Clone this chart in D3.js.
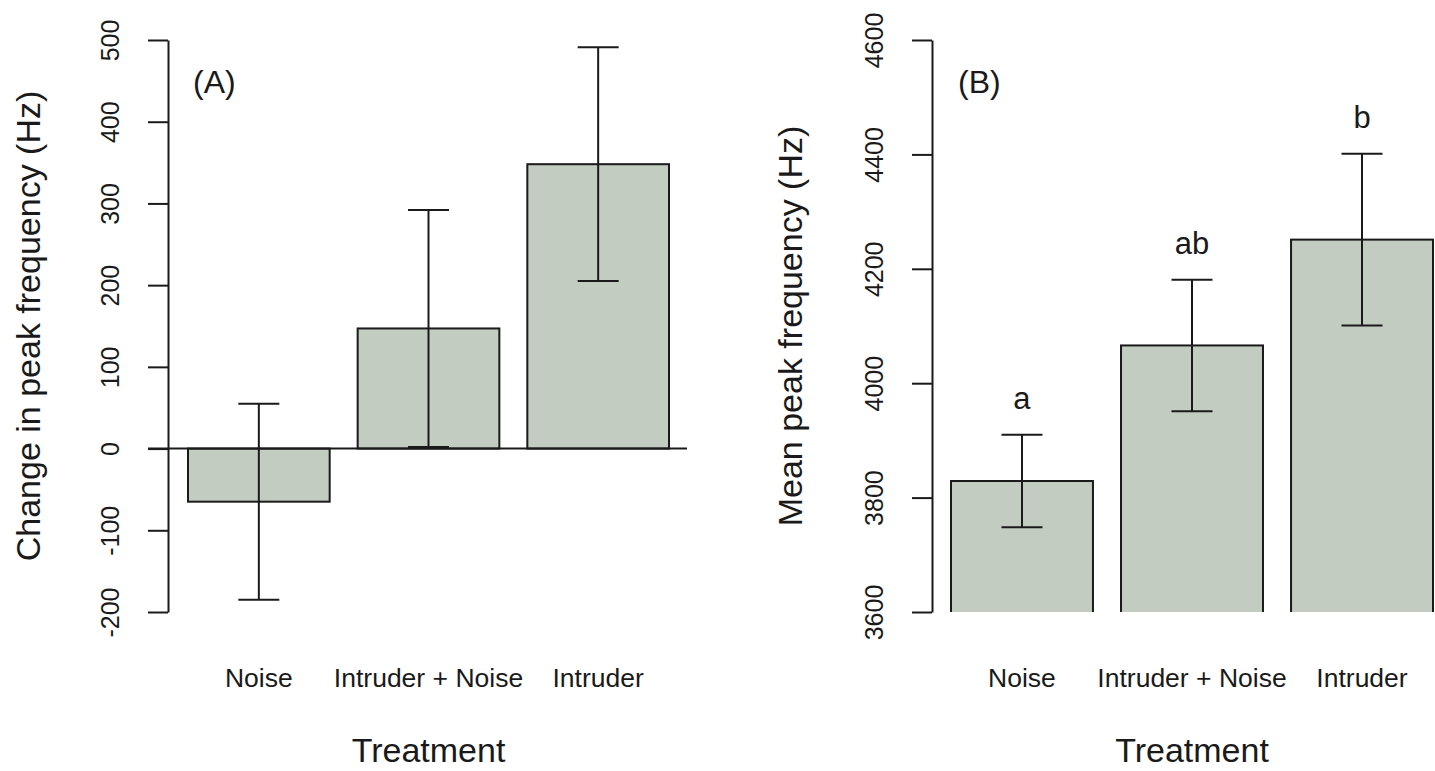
<!DOCTYPE html>
<html>
<head>
<meta charset="utf-8">
<script src="https://cdn.jsdelivr.net/npm/d3@7"></script>
<style>
  body { margin: 0; background: #fff; }
  svg { display: block; font-family: "Liberation Sans", Arial, sans-serif; }
</style>
</head>
<body>
<svg id="chart" width="1435" height="771"></svg>
<script>
const treatments = ["Noise", "Intruder + Noise", "Intruder"];

// panel A: change in peak frequency
const changeMean = [-65, 147, 348];
const changeSE = [120, 145, 143];
const changeTicks = [-200, -100, 0, 100, 200, 300, 400, 500];

// panel B: mean peak frequency
const peakMean = [3829, 4066, 4251];
const peakSE = [81, 115, 150];
const peakTicks = [3600, 3800, 4000, 4200, 4400, 4600];
const peakLetters = ["a", "ab", "b"];

const barFill = "#c3ccc1";
const ink = "#1a1a1a";

const svg = d3.select("#chart");

/*clip so bars that start below the axis floor lose their bottom edge (like R)*/
svg.append("defs").append("clipPath").attr("id", "clipB")
  .append("rect").attr("x", 900).attr("y", 0).attr("width", 535).attr("height", 612);

function drawPanel(opts) {
  const g = svg.append("g");

  const x = d3.scaleBand()
    .domain(treatments)
    .range(opts.barRange)
    .paddingInner(0.165)
    .paddingOuter(0);

  const y = d3.scaleLinear()
    .domain(opts.domain)
    .range([612, 40]);

  /*y axis with R style rotated labels*/
  const axis = d3.axisLeft(y)
    .tickValues(opts.ticks)
    .tickSize(20)
    .tickSizeOuter(0)
    .tickFormat(d => String(d));

  const ax = g.append("g")
    .attr("transform", "translate(" + opts.axisX + ",0)")
    .call(axis);
  ax.select(".domain").attr("stroke", ink).attr("stroke-width", 2);
  ax.selectAll(".tick line").attr("stroke", ink).attr("stroke-width", 2);
  ax.selectAll(".tick text")
    .attr("x", null).attr("dy", null)
    .attr("fill", ink)
    .style("font-size", "25px")
    .attr("text-anchor", "middle")
    .attr("transform", "translate(-49,0) rotate(-90)");

  const bars = g.append("g");
  if (opts.clip) bars.attr("clip-path", "url(#" + opts.clip + ")");

  const base = opts.domain[0] < 0 ? 0 : opts.domain[0] - 50;
  bars.selectAll("rect")
    .data(opts.means)
    .enter()
    .append("rect")
    .attr("x", (d, i) => x(treatments[i]))
    .attr("width", x.bandwidth())
    .attr("y", d => Math.min(y(d), y(base)))
    .attr("height", d => Math.abs(y(d) - y(base)))
    .attr("fill", barFill)
    .attr("stroke", ink)
    .attr("stroke-width", 2);

  /*zero reference line*/
  if (opts.zeroLine) {
    g.append("line")
      .attr("x1", opts.zeroLine[0]).attr("x2", opts.zeroLine[1])
      .attr("y1", y(0)).attr("y2", y(0))
      .attr("stroke", ink).attr("stroke-width", 2);
  }

  /*error bars*/
  const cap = 20.5;
  const err = g.append("g").attr("stroke", ink).attr("stroke-width", 2);
  opts.means.forEach((m, i) => {
    const cx = x(treatments[i]) + x.bandwidth() / 2;
    const lo = y(m - opts.se[i]);
    const hi = y(m + opts.se[i]);
    err.append("line").attr("x1", cx).attr("x2", cx).attr("y1", lo).attr("y2", hi);
    err.append("line").attr("x1", cx - cap).attr("x2", cx + cap).attr("y1", lo).attr("y2", lo);
    err.append("line").attr("x1", cx - cap).attr("x2", cx + cap).attr("y1", hi).attr("y2", hi);
  });

  /*significance letters*/
  if (opts.letters) {
    g.selectAll("text.letter")
      .data(opts.letters)
      .enter()
      .append("text")
      .attr("class", "letter")
      .attr("x", (d, i) => x(treatments[i]) + x.bandwidth() / 2)
      .attr("y", (d, i) => y(opts.means[i] + opts.se[i]) - 26)
      .attr("text-anchor", "middle")
      .attr("fill", ink)
      .style("font-size", "31px")
      .text(d => d);
  }

  /*category names*/
  g.selectAll("text.cat")
    .data(treatments)
    .enter()
    .append("text")
    .attr("class", "cat")
    .attr("x", d => x(d) + x.bandwidth() / 2)
    .attr("y", 687)
    .attr("text-anchor", "middle")
    .attr("fill", ink)
    .style("font-size", "26.5px")
    .text(d => d);

  /*x title*/
  g.append("text")
    .attr("x", x(treatments[1]) + x.bandwidth() / 2)
    .attr("y", 762)
    .attr("text-anchor", "middle")
    .attr("fill", ink)
    .style("font-size", "34px")
    .text("Treatment");

  /*y title*/
  g.append("text")
    .attr("transform", "translate(" + opts.titleX + ",326) rotate(-90)")
    .attr("text-anchor", "middle")
    .attr("fill", ink)
    .style("font-size", "34px")
    .text(opts.title);

  /*panel tag*/
  g.append("text")
    .attr("x", opts.tagX)
    .attr("y", 93)
    .attr("fill", ink)
    .style("font-size", "32px")
    .text(opts.tag);
}

drawPanel({
  means: changeMean, se: changeSE, ticks: changeTicks,
  domain: [-200, 500], barRange: [188, 669], axisX: 168,
  zeroLine: [148, 687],
  title: "Change in peak frequency (Hz)", titleX: 40,
  tag: "(A)", tagX: 193
});

drawPanel({
  means: peakMean, se: peakSE, ticks: peakTicks,
  domain: [3600, 4600], barRange: [951, 1433], axisX: 932,
  clip: "clipB", letters: peakLetters,
  title: "Mean peak frequency (Hz)", titleX: 802,
  tag: "(B)", tagX: 958
});
</script>
</body>
</html>
